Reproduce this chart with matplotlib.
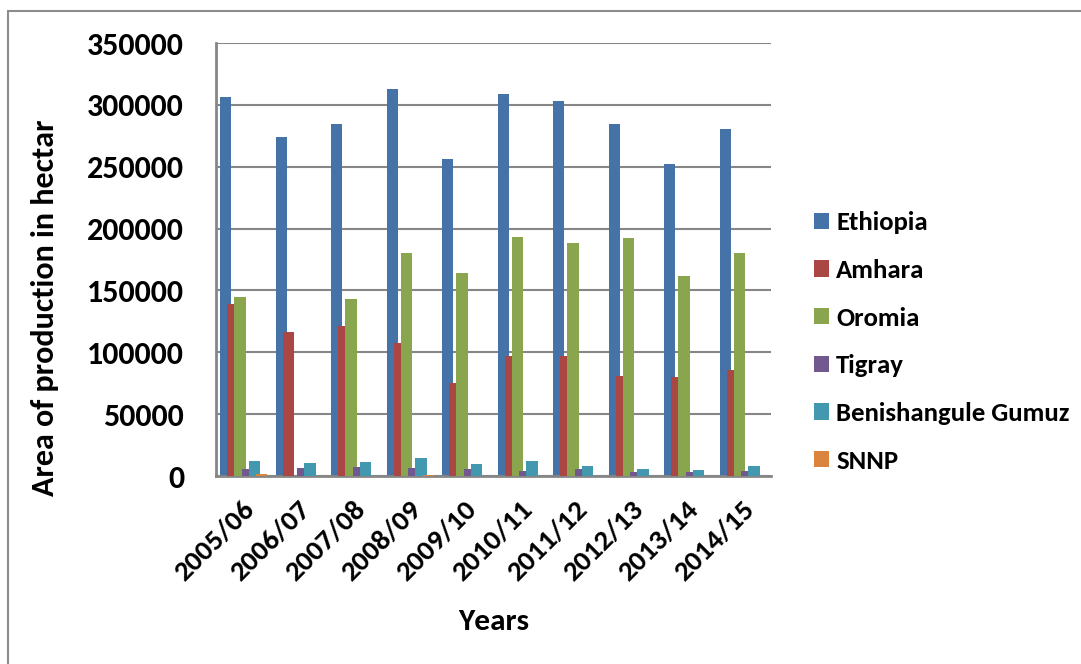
import matplotlib
matplotlib.use("Agg")
import matplotlib.pyplot as plt
import numpy as np

years = ["2005/06", "2006/07", "2007/08", "2008/09", "2009/10",
         "2010/11", "2011/12", "2012/13", "2013/14", "2014/15"]

ethiopia = [306500, 274300, 284900, 313200, 256500, 308900, 303200, 284900, 252200, 280600]
amhara = [139200, 116400, 121300, 107500, 75000, 97300, 97300, 80800, 80000, 86000]
oromia = [144600, 0, 142900, 180600, 163900, 193200, 188600, 192000, 161900, 180200]
tigray = [5400, 6200, 7300, 6500, 5700, 4000, 5400, 3200, 3000, 4300]
benishangul = [12200, 10500, 11300, 14800, 9700, 11900, 8100, 5900, 4900, 7800]
snnp = [1900, 0, 0, 500, 0, 0, 0, 0, 0, 0]

regions = ["Ethiopia", "Amhara", "Oromia", "Tigray", "Benishangule Gumuz", "SNNP"]
colors = ["#4572A7", "#AA4643", "#89A54E", "#71588F", "#4198AF", "#DB843D"]
series = [ethiopia, amhara, oromia, tigray, benishangul, snnp]

plt.rcParams["font.family"] = ["Carlito", "DejaVu Sans"]
plt.rcParams["font.weight"] = "bold"

fig = plt.figure(figsize=(10.81, 6.64), dpi=100)
ax = fig.add_axes([0.1998, 0.2831, 0.5134, 0.6521])

# grey frame around the whole chart
fig.patches.append(plt.Rectangle((8 / 1081, -0.1), 1.2, 1 - 11 / 664 + 0.1,
                                 transform=fig.transFigure, fill=False,
                                 edgecolor="#8c8c8c", linewidth=1.5))

x = np.arange(len(years))
step = 0.13
width = 0.204
for i, (name, vals, c) in enumerate(zip(regions, series, colors)):
    ax.bar(x + (i - 2.5) * step, vals, width=width, color=c, label=name,
           edgecolor="none", zorder=2 + i)

ax.set_xlim(-0.5, len(years) - 0.5)
ax.set_ylim(0, 350000)
ax.set_yticks(np.arange(0, 350001, 50000))
ax.set_yticklabels([str(v) for v in range(0, 350001, 50000)], fontsize=23, fontweight="bold")
ax.set_xticks(x + 0.12)
ax.set_xticklabels(years, rotation=45, ha="right", va="center", rotation_mode="anchor",
                   fontsize=21, fontweight="bold")
ax.tick_params(axis="both", length=0)
ax.tick_params(axis="y", pad=23)
ax.tick_params(axis="x", pad=21)

ax.yaxis.grid(True, color="#868686", linewidth=1.5, zorder=0)
ax.set_axisbelow(True)
for s in ["top", "right"]:
    ax.spines[s].set_visible(False)
for s in ["left", "bottom"]:
    ax.spines[s].set_color("#868686")
    ax.spines[s].set_linewidth(2)

fig.text(45 / 1081, 1 - 308 / 664, "Area of production in hectar", fontsize=23,
         fontweight="bold", rotation=90, ha="center", va="center")
fig.text(494 / 1081, 1 - 622 / 664, "Years", fontsize=22.5, fontweight="bold",
         ha="center", va="center")

fig.legend(loc="center left", bbox_to_anchor=(0.731, 0.485), frameon=False,
           handlelength=0.56, handleheight=0.56, handletextpad=0.25,
           labelspacing=0.92, prop={"weight": "bold", "size": 19.3})

fig.savefig("out.png", dpi=100)
